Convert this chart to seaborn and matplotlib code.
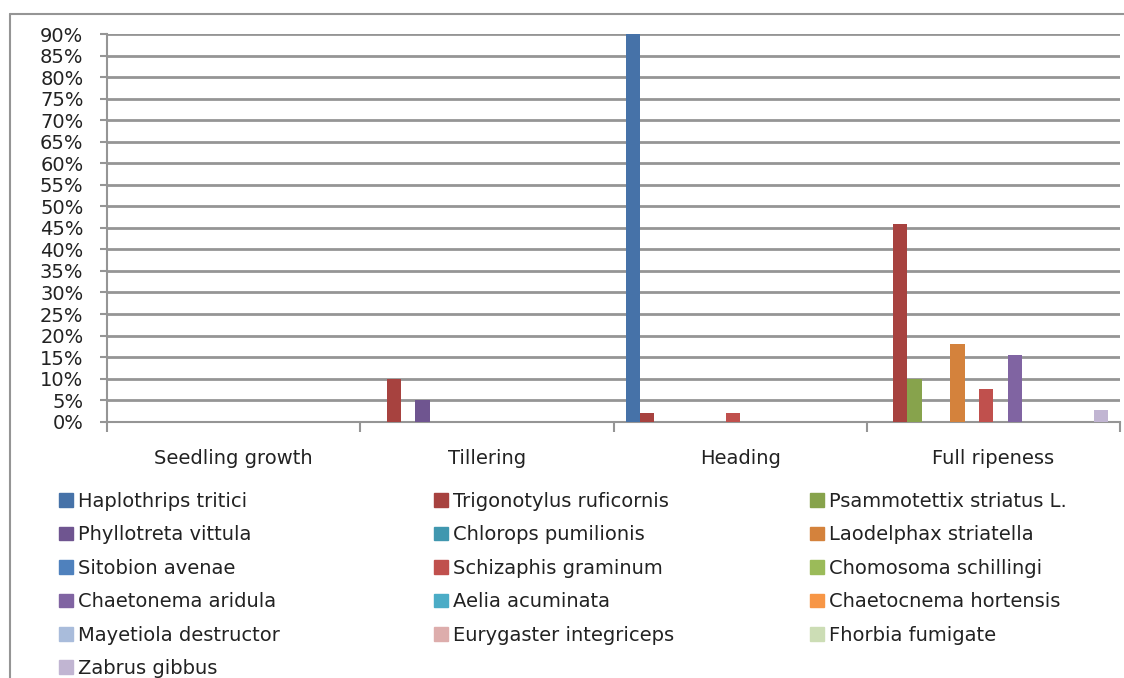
import pandas as pd
import numpy as np
import matplotlib
matplotlib.use("Agg")
import matplotlib.pyplot as plt
import matplotlib.patches as mpatches
from matplotlib.ticker import PercentFormatter, FixedLocator, NullFormatter
import seaborn as sns

# ------------------------------------------------------------
# Share of pest species by wheat growth stage (%)
# ------------------------------------------------------------

stages = ["Seedling growth", "Tillering", "Heading", "Full ripeness"]

species = [
    "Haplothrips tritici", "Trigonotylus ruficornis", "Psammotettix striatus L.",
    "Phyllotreta vittula", "Chlorops pumilionis", "Laodelphax striatella",
    "Sitobion avenae", "Schizaphis graminum", "Chomosoma schillingi",
    "Chaetonema aridula", "Aelia acuminata", "Chaetocnema hortensis",
    "Mayetiola destructor", "Eurygaster integriceps", "Fhorbia fumigate",
    "Zabrus gibbus",
]

# one list per stage, in species order
seedling_growth = [0, 0, 0, 0, 0, 0, 0, 0, 0, 0, 0, 0, 0, 0, 0, 0]
tillering       = [0, 10, 0, 5, 0, 0, 0, 0, 0, 0, 0, 0, 0, 0, 0, 0]
heading         = [90, 2, 0, 0, 0, 0, 0, 2, 0, 0, 0, 0, 0, 0, 0, 0]
full_ripeness   = [0, 46, 10, 0, 0, 18, 0, 7.7, 0, 15.5, 0, 0, 0, 0, 0, 2.7]

colors = [
    "#4672A8", "#A7423F", "#87A34C", "#6F5590", "#4097AF", "#D4823C",
    "#4F81BD", "#C0504D", "#9BBB59", "#8064A2", "#4BACC6", "#F79646",
    "#A9BCDB", "#DDADAC", "#CCDDB5", "#C1B5D2",
]

W, H = 1124, 678
FS = 14


def build_frame():
    rows = []
    for stage, vals in zip(stages, [seedling_growth, tillering, heading, full_ripeness]):
        for sp, v in zip(species, vals):
            rows.append({"stage": stage, "species": sp, "value": v})
    return pd.DataFrame(rows)


def main():
    df = build_frame()
    sns.set_style("white")
    plt.rcParams["font.family"] = ["DejaVu Sans"]

    fig = plt.figure(figsize=(W / 100, H / 100), dpi=100)
    ax = fig.add_axes([107 / W, 1 - 421.7 / H, (1120 - 107) / W, (421.7 - 34) / H])

    sns.barplot(
        data=df, x="stage", y="value", hue="species",
        order=stages, hue_order=species, palette=colors,
        width=0.905, gap=0, dodge=True, errorbar=None,
        saturation=1, linewidth=0, legend=False, ax=ax, zorder=3,
    )

    grid_col = "#959595"
    ax.set_xlim(-0.5, len(stages) - 0.5)
    ax.set_ylim(0, 90)
    ax.set_yticks(np.arange(0, 91, 5))
    ax.yaxis.set_major_formatter(PercentFormatter(decimals=0))
    ax.yaxis.grid(True, color=grid_col, lw=2, zorder=0)
    ax.set_axisbelow(True)
    ax.set_xlabel("")
    ax.set_ylabel("")

    for s in ["top", "right"]:
        ax.spines[s].set_visible(False)
    for s in ["left", "bottom"]:
        ax.spines[s].set_color(grid_col)
        ax.spines[s].set_linewidth(1.5)

    ax.tick_params(axis="y", which="major", length=5, width=1.5, color=grid_col,
                   pad=12, labelsize=FS, labelcolor="#222222", left=True)
    ax.tick_params(axis="x", which="major", length=0, pad=20,
                   labelsize=FS, labelcolor="#222222")
    ax.xaxis.set_minor_locator(FixedLocator(np.arange(-0.5, len(stages), 1.0)))
    ax.xaxis.set_minor_formatter(NullFormatter())
    ax.tick_params(axis="x", which="minor", length=7, width=1.5, color=grid_col, bottom=True)

    # legend: three columns filled row-wise, like the original
    handles = [mpatches.Patch(color=c, label=s) for s, c in zip(species, colors)]
    col_x = [59, 434, 810]
    for k in range(3):
        leg = fig.legend(
            handles=handles[k::3], loc="upper left",
            bbox_to_anchor=(col_x[k] / W, 1 - 492 / H),
            frameon=False, fontsize=FS, handlelength=0.7, handleheight=0.7,
            handletextpad=0.3, labelspacing=0.74, borderpad=0, borderaxespad=0,
        )
        for t in leg.get_texts():
            t.set_color("#222222")

    # outer chart frame (cropped at right and bottom)
    fig.add_artist(plt.Line2D([10 / W, 10 / W], [0, 1 - 14 / H], color=grid_col, lw=1.5,
                              transform=fig.transFigure))
    fig.add_artist(plt.Line2D([10 / W, 1], [1 - 14 / H, 1 - 14 / H], color=grid_col, lw=1.5,
                              transform=fig.transFigure))

    fig.savefig("out.png", dpi=100)


if __name__ == "__main__":
    main()
